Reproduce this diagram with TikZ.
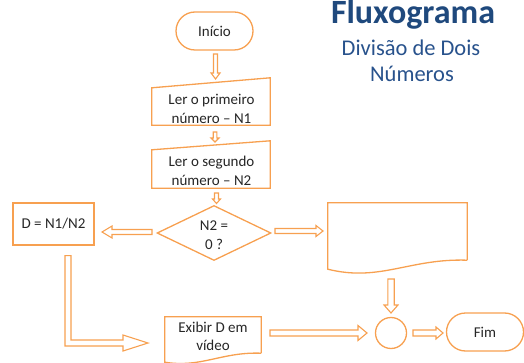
\documentclass[tikz,border=0pt]{standalone}
\usepackage{fontspec}
\setmainfont{Carlito}
\usetikzlibrary{calc,shapes.geometric}
\definecolor{orng}{RGB}{247,160,80}
\definecolor{ttl}{RGB}{31,73,125}
\definecolor{sub}{RGB}{40,82,140}
\newcommand\blockarrow[5]{% from, to, shaft half width, head half width, head length
  \draw[barr] ($(#1)!#3!90:(#2)$) -- ($(#2)!#5!(#1)!#3!-90:(#1)$) -- ($(#2)!#5!(#1)!#4!-90:(#1)$) -- (#2)
    -- ($(#2)!#5!(#1)!#4!90:(#1)$) -- ($(#2)!#5!(#1)!#3!90:(#1)$) -- ($(#1)!#3!-90:(#2)$) -- cycle;}
\tikzset{
  txt/.style={font=\fontsize{15}{18.5}\selectfont, align=center, text=black!85, inner sep=0pt},
  term/.style={txt, draw=orng, line width=1.3pt, rounded corners=19pt, minimum width=77pt, minimum height=38pt},
  shapebox/.style={inner sep=0pt},
  outline/.style={draw=orng, line width=1.3pt, fill=white},
  barr/.style={draw=orng, line width=1.1pt, fill=white, line join=miter},
  dec/.style={diamond, draw=orng, line width=1.3pt, minimum width=114pt, minimum height=55pt, inner sep=0pt, aspect=2},
}
\begin{document}
\begin{tikzpicture}[x=1pt,y=-1pt]
\useasboundingbox (0,0) rectangle (524,363);
\clip (0,0) rectangle (524,363);
% title
\node[text=ttl, font=\fontsize{34}{40}\selectfont\bfseries, anchor=base, inner sep=0pt] (title) at (413,24) {Fluxograma};
\node[text=sub, font=\fontsize{22.5}{26}\selectfont, anchor=base, inner sep=0pt] (sub1) at (411,56) {Divisão de Dois};
\node[text=sub, font=\fontsize{22.5}{26}\selectfont, anchor=base, inner sep=0pt] (sub2) at (412,82) {Números};
% start
\node[term] (inicio) at (214.5,31) {Início};
% input 1
\node[shapebox, minimum width=118pt, minimum height=47pt] (in1) at (211,101.5) {};
\draw[outline] (in1.south west) -- (in1.south east) -- (in1.north east) -- ($(in1.north west)+(0,10)$) -- cycle;
\node[txt] (in1t) at (211.5,109) {Ler o primeiro\\número – N1};
% input 2
\node[shapebox, minimum width=118pt, minimum height=47pt] (in2) at (211,164.5) {};
\draw[outline] (in2.south west) -- (in2.south east) -- (in2.north east) -- ($(in2.north west)+(0,9)$) -- cycle;
\node[txt] (in2t) at (211.5,171) {Ler o segundo\\número – N2};
% decision
\node[dec] (dec) at (214,233) {};
\node[txt] (dect) at (214,235) {N2 =\\0 ?};
% D box
\node[txt, draw=orng, line width=1.3pt, minimum width=81pt, minimum height=42pt] (dbox) at (53.5,224) {D = N1/N2};
% document (blank)
\node[shapebox, minimum width=139pt, minimum height=57pt] (doc) at (397.5,231.5) {};
\draw[outline] (doc.south east) -- (doc.north east) -- (doc.north west) -- ($(doc.south west)+(0,9)$)
  .. controls ($(doc.south west)+(52,22)$) and ($(doc.south west)+(82,-2)$) .. (doc.south east);
% display document
\node[shapebox, minimum width=96pt, minimum height=36pt] (disp) at (213,335) {};
\draw[outline] (disp.south east) -- (disp.north east) -- (disp.north west) -- ($(disp.south west)+(0,9)$)
  .. controls ($(disp.south west)+(36,15)$) and ($(disp.south west)+(57,-1.5)$) .. (disp.south east);
\node[txt] (dispt) at (213,336.5) {Exibir D em\\vídeo};
% connector circle
\node[circle, draw=orng, line width=1.3pt, minimum size=31pt, inner sep=0pt] (conn) at (391,333) {};
% end
\node[term] (fim) at (485,332) {Fim};
% arrow end points
\coordinate (a1s) at (215.5,54);  \coordinate (a1e) at (215.5,79);
\coordinate (a2s) at (215,132);   \coordinate (a2e) at (215,142);
\coordinate (a3s) at (216.5,193); \coordinate (a3e) at (216.5,203.5);
\coordinate (a4s) at (152,232);   \coordinate (a4e) at (102,232);
\coordinate (a5s) at (275,231);   \coordinate (a5e) at (323,231);
\coordinate (a6s) at (391,279);   \coordinate (a6e) at (391,313);
\coordinate (a7s) at (270,333);   \coordinate (a7e) at (367,333);
\coordinate (a8s) at (413,333);   \coordinate (a8e) at (443,333);
\blockarrow{a1s}{a1e}{2pt}{4.5pt}{6pt}
\blockarrow{a2s}{a2e}{1.8pt}{4pt}{4pt}
\blockarrow{a3s}{a3e}{2pt}{4pt}{4.5pt}
\blockarrow{a4s}{a4e}{2.5pt}{6pt}{10pt}
\blockarrow{a5s}{a5e}{2.5pt}{5.5pt}{7pt}
\blockarrow{a6s}{a6e}{3.2pt}{7pt}{8pt}
\blockarrow{a7s}{a7e}{3pt}{7.5pt}{9pt}
\blockarrow{a8s}{a8e}{3pt}{6pt}{7pt}
% L-shaped arrow from D box to display
\coordinate (lstart) at ($(dbox.south)+(14.5,10)$);
\coordinate (ltip) at (148,343);
\draw[barr] ($(lstart)+(-3,0)$) -- ($(lstart)+(3,0)$) |- ($(ltip)+(-25,-3)$) -- ($(ltip)+(-25,-8)$) -- (ltip)
  -- ($(ltip)+(-25,8)$) -- ($(ltip)+(-25,3)$) -| ($(lstart)+(-3,0)$) -- cycle;
\end{tikzpicture}
\end{document}
